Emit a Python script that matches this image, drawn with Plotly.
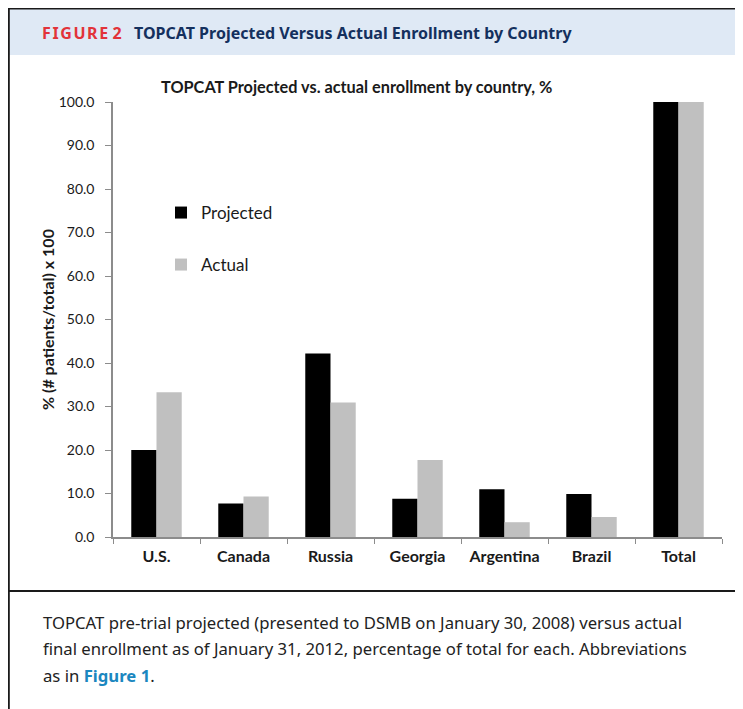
import plotly.graph_objects as go

categories = ["U.S.", "Canada", "Russia", "Georgia", "Argentina", "Brazil", "Total"]
projected = [20.0, 7.7, 42.2, 8.8, 11.0, 9.9, 100.0]
actual = [33.3, 9.3, 30.9, 17.7, 3.4, 4.6, 100.0]
y_ticks = [0, 10, 20, 30, 40, 50, 60, 70, 80, 90, 100]

# the page body adds an 8px offset; work in page pixels and convert
OFF = 8
W, H = 743 - OFF, 709 - OFF
L, R, T, B = 113, 722, 102, 537  # plot area in page pixels

def px(x):
    return (x - L) / (R - L)

def py(y):
    return (B - y) / (B - T)

CHART_FONT = "Lato, Carlito, Calibri, 'Open Sans', sans-serif"
TEXT_FONT = "'Noto Sans', 'Open Sans', sans-serif"

fig = go.Figure()
fig.add_trace(go.Bar(x=categories, y=projected, name="Projected", showlegend=True,
                     marker=dict(color="#000000", line=dict(width=0)), legend="legend"))
fig.add_trace(go.Bar(x=categories, y=actual, name="Actual", showlegend=True,
                     marker=dict(color="#c0c0c0", line=dict(width=0)), legend="legend2"))

shapes = [
    dict(type="rect", xref="paper", yref="paper", x0=px(9), x1=px(745), y0=py(55), y1=py(8),
         fillcolor="#dfe9f5", line=dict(width=0), layer="below"),
    dict(type="line", xref="paper", yref="paper", x0=px(7), x1=px(745), y0=py(8.5), y1=py(8.5),
         line=dict(color="#1a1a1a", width=2)),
    dict(type="line", xref="paper", yref="paper", x0=px(8.8), x1=px(8.8), y0=py(7), y1=py(712),
         line=dict(color="#1a1a1a", width=2)),
    dict(type="line", xref="paper", yref="paper", x0=px(8), x1=px(745), y0=py(591), y1=py(591),
         line=dict(color="#1a1a1a", width=2)),
]

fig_label = "\u200a".join("FIGURE") + "\u200a\u2009" + "2"

annotations = [
    dict(text="<b>" + fig_label + "</b>", x=px(40), y=py(33), xref="paper", yref="paper",
         xanchor="left", yanchor="middle", showarrow=False,
         font=dict(family=TEXT_FONT, size=16, color="#e2333a")),
    dict(text="<b>TOPCAT Projected Versus Actual Enrollment by Country</b>", x=px(132), y=py(33),
         xref="paper", yref="paper", xanchor="left", yanchor="middle", showarrow=False,
         font=dict(family=TEXT_FONT, size=16, color="#14305e")),
    dict(text="<b>TOPCAT Projected vs. actual enrollment by country, %</b>", x=px(356), y=py(87),
         xref="paper", yref="paper", xanchor="center", yanchor="middle", showarrow=False,
         font=dict(family=CHART_FONT, size=16.3, color="#1a1a1a")),
    dict(text="<b>% (# patients/total) x 100</b>", x=px(47), y=py(320), textangle=-90,
         xref="paper", yref="paper", xanchor="center", yanchor="middle", showarrow=False,
         font=dict(family=CHART_FONT, size=16, color="#1a1a1a")),
]

caption_lines = [
    "TOPCAT pre-trial projected (presented to DSMB on January 30, 2008) versus actual",
    "final enrollment as of January 31, 2012, percentage of total for each. Abbreviations",
    "as in <b><span style='color:#1b87c0'>Figure 1</span></b>.",
]
for i, line in enumerate(caption_lines):
    annotations.append(dict(text=line, x=px(41), y=py(622 + 26.5 * i), xref="paper", yref="paper",
                            xanchor="left", yanchor="middle", showarrow=False,
                            font=dict(family=TEXT_FONT, size=16.7, color="#222222")))

legend_font = dict(family=CHART_FONT, size=17, color="#1a1a1a")
fig.update_layout(
    width=W, height=H,
    margin=dict(l=L - OFF, r=(W + OFF) - R, t=T - OFF, b=(H + OFF) - B),
    paper_bgcolor="white", plot_bgcolor="white",
    barmode="group", bargap=0.42, bargroupgap=0,
    showlegend=True,
    font=dict(family=CHART_FONT, size=14, color="#1a1a1a"),
    shapes=shapes, annotations=annotations,
    legend=dict(x=px(161), y=py(213), xanchor="left", yanchor="middle", font=legend_font,
                bgcolor="rgba(0,0,0,0)", itemwidth=30),
    legend2=dict(x=px(161), y=py(265), xanchor="left", yanchor="middle", font=legend_font,
                 bgcolor="rgba(0,0,0,0)", itemwidth=30),
    xaxis=dict(showline=True, linecolor="#8c8c8c", linewidth=1.5, ticks="outside",
               tickson="boundaries", ticklen=5, tickcolor="#8c8c8c", showgrid=False,
               ticklabelstandoff=4,
               tickfont=dict(family=CHART_FONT, size=16, color="#1a1a1a", weight="bold"),
               fixedrange=True),
    yaxis=dict(range=[0, 100], tickvals=y_ticks, tickformat=".1f", showline=True,
               linecolor="#8c8c8c", linewidth=1.5, ticks="outside", ticklen=6,
               tickcolor="#8c8c8c", showgrid=False, zeroline=False, ticklabelstandoff=8,
               tickfont=dict(family=CHART_FONT, size=14, color="#1a1a1a"), fixedrange=True),
)

fig.write_html("out.html")
